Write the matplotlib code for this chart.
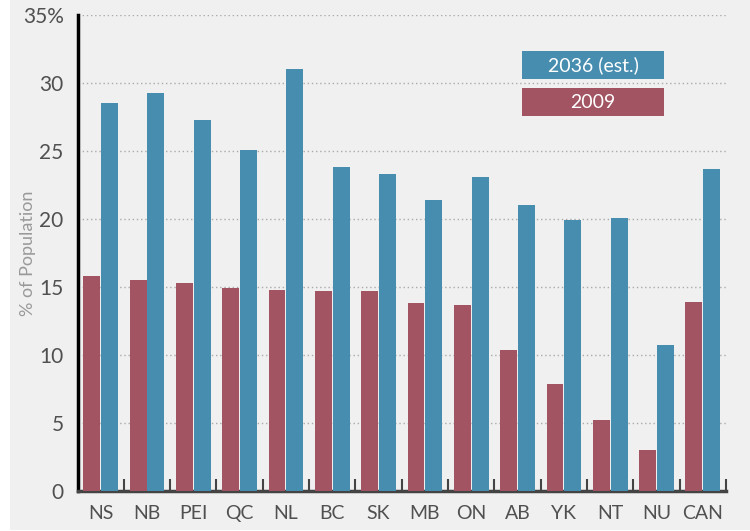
import matplotlib
matplotlib.use('Agg')
import matplotlib.pyplot as plt
import numpy as np
from matplotlib.patches import Rectangle

provinces = ["NS", "NB", "PEI", "QC", "NL", "BC", "SK", "MB", "ON", "AB", "YK", "NT", "NU", "CAN"]
pct_2009 = [15.8, 15.5, 15.3, 14.9, 14.8, 14.7, 14.7, 13.8, 13.7, 10.4, 7.9, 5.2, 3.0, 13.9]
pct_2036 = [28.5, 29.3, 27.3, 25.1, 31.0, 23.8, 23.3, 21.4, 23.1, 21.0, 19.9, 20.1, 10.7, 23.7]
yticks = [0, 5, 10, 15, 20, 25, 30, 35]
ytick_labels = ["0", "5", "10", "15", "20", "25", "30", "35%"]

RED = "#a25462"
BLUE = "#478db0"
BG = "#f0f0f0"

plt.rcParams['font.family'] = ['Lato', 'DejaVu Sans']

fig = plt.figure(figsize=(7.5, 5.31), dpi=100, facecolor=BG)
# thin white margin on the left and bottom of the panel
fig.patches.append(Rectangle((0, 0), 10 / 750, 1, transform=fig.transFigure,
                             facecolor="white", edgecolor="none", zorder=0))
fig.patches.append(Rectangle((0, 0), 1, 1.5 / 531, transform=fig.transFigure,
                             facecolor="white", edgecolor="none", zorder=0))

ax = fig.add_axes([77.5 / 750, 40 / 531, (726 - 77.5) / 750, 476 / 531])
ax.set_facecolor(BG)

x = np.arange(len(provinces))
w = 0.365
ax.bar(x - w / 2 - 0.01, pct_2009, w, color=RED, zorder=3)
ax.bar(x + w / 2 + 0.01, pct_2036, w, color=BLUE, zorder=3)

ax.set_xlim(-0.5, len(provinces) - 0.5)
ax.set_ylim(0, 35)

for y in yticks[1:]:
    ax.axhline(y, color="#aaaaaa", linestyle=(0, (1, 2)), linewidth=1, zorder=1)

ax.set_yticks(yticks)
ax.set_yticklabels(ytick_labels, fontsize=15, color="#505050")
ax.tick_params(axis='y', length=0, pad=10)

ax.set_xticks(x)
ax.set_xticklabels(provinces, fontsize=14, color="#505050")
ax.tick_params(axis='x', which='major', length=0, pad=10)
ax.set_xticks(np.arange(0.5, len(provinces), 1), minor=True)
ax.tick_params(axis='x', which='minor', direction='in', length=9, width=1.5, color="#444444")

for s in ["top", "right"]:
    ax.spines[s].set_visible(False)
ax.spines["left"].set_color("black")
ax.spines["left"].set_linewidth(2.5)
ax.spines["bottom"].set_color("#444444")
ax.spines["bottom"].set_linewidth(2.5)

ax.set_ylabel("% of Population", fontsize=13, color="#999999")
ax.yaxis.set_label_coords(-0.064, 0.5)

# legend boxes
for (y0, col, txt) in [(51, BLUE, "2036 (est.)"), (88, RED, "2009")]:
    fig.patches.append(Rectangle((522 / 750, 1 - (y0 + 28) / 531), 142 / 750, 28 / 531,
                                 transform=fig.transFigure, facecolor=col,
                                 edgecolor="none", zorder=5))
    fig.text(593 / 750, 1 - (y0 + 14) / 531, txt, ha="center", va="center",
             color="white", fontsize=14, zorder=6)

plt.savefig("out.png", dpi=100, facecolor=fig.get_facecolor())
